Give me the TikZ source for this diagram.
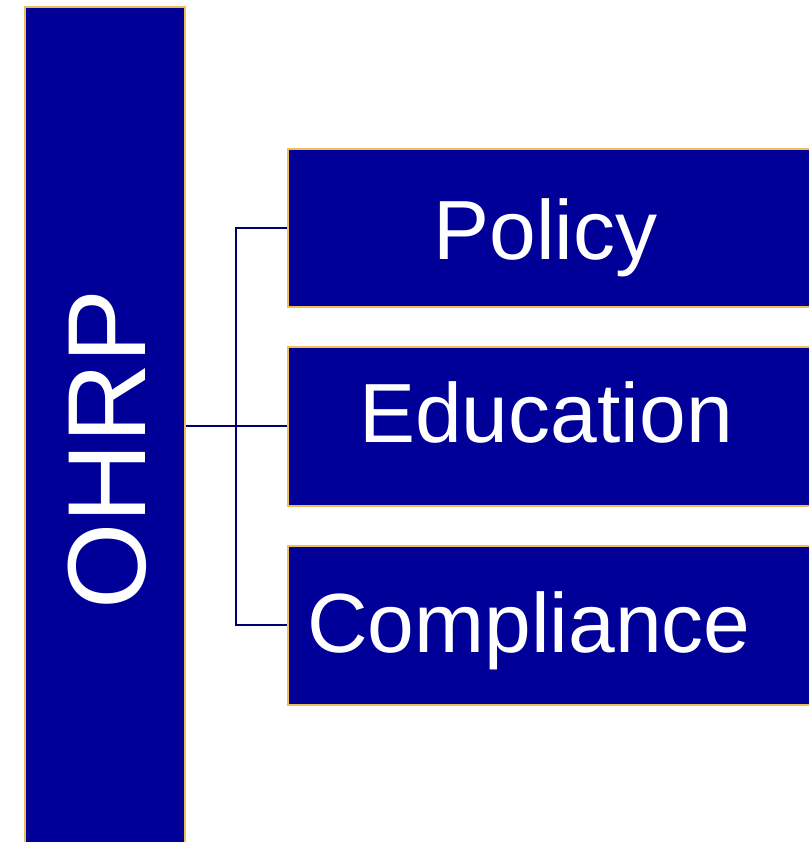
\documentclass[tikz,border=0pt]{standalone}
\usepackage{fontspec}
\setmainfont{Liberation Sans}
\definecolor{boxblue}{RGB}{0,0,153}
\definecolor{boxgold}{RGB}{238,190,90}
\definecolor{linknavy}{RGB}{0,0,110}
\begin{document}
\begin{tikzpicture}[x=1pt,y=1pt,
  bluebox/.style={draw=boxgold,fill=boxblue,line width=2pt,rectangle,inner sep=0pt},
  boxtext/.style={text=white,inner sep=0pt,anchor=base},
  link/.style={draw=linknavy,line width=2pt}]
\useasboundingbox (0,0) rectangle (808,842);
% OHRP column (y measured from top: 6 .. beyond bottom)
\node[bluebox,minimum width=160pt,minimum height=850pt,anchor=north west] (ohrp) at (24,836) {};
\node[boxtext,rotate=90,font=\fontsize{111}{111}\selectfont] (ohrpt) at (145,392.5) {OHRP};
% branch boxes
\node[bluebox,minimum width=540pt,minimum height=158pt,anchor=north west] (pol) at (287,694) {};
\node[bluebox,minimum width=540pt,minimum height=159pt,anchor=north west] (edu) at (287,496) {};
\node[bluebox,minimum width=540pt,minimum height=159pt,anchor=north west] (comp) at (287,297) {};
\node[boxtext,font=\fontsize{84}{84}\selectfont] (polt) at (545.5,582) {Policy};
\node[boxtext,font=\fontsize{84}{84}\selectfont] (edut) at (546,399) {Education};
\node[boxtext,font=\fontsize{84}{84}\selectfont] (compt) at (529,189) {Compliance};
% connectors
\coordinate (jx) at (236,0);
\draw[link] (ohrp.east |- edu.west) -- (edu.west);
\draw[link] (pol.west) -| (jx |- comp.west) -- (comp.west);
\end{tikzpicture}
\end{document}
